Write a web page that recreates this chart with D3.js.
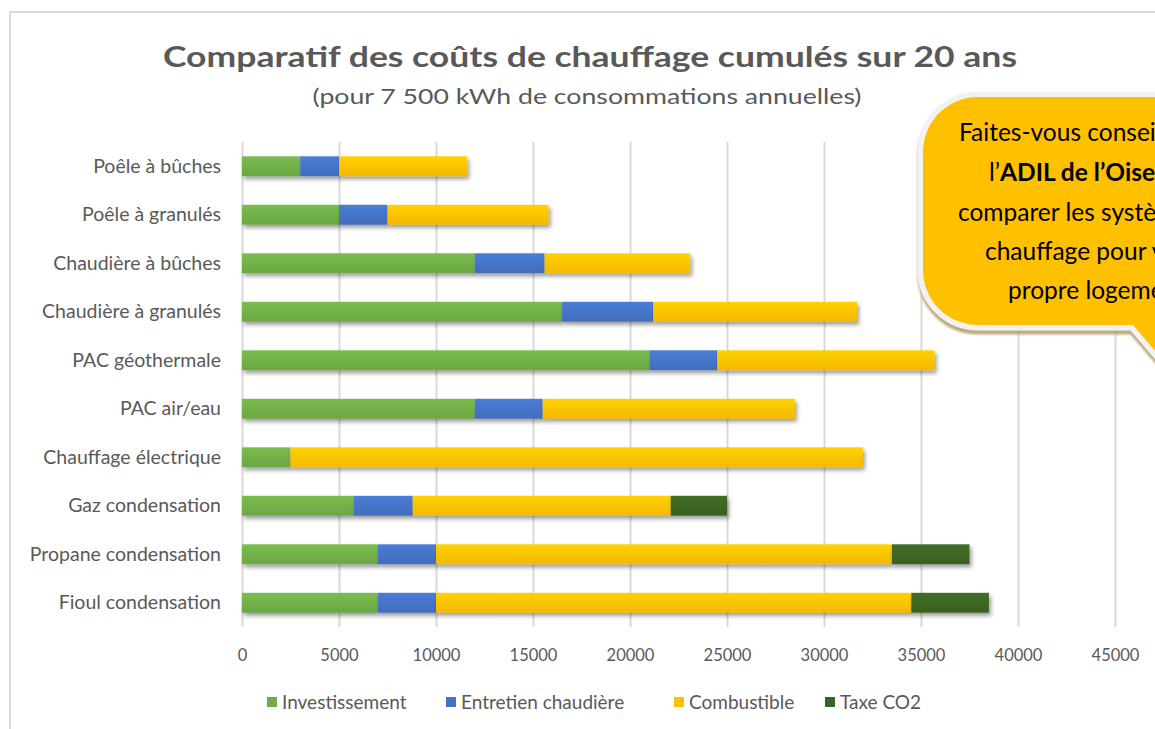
<!DOCTYPE html>
<html>
<head>
<meta charset="utf-8">
<title>Comparatif des coûts de chauffage</title>
<script src="https://d3js.org/d3.v7.min.js"></script>
<style>
  body { margin: 0; background: #fff; }
  svg { display: block; font-family: Lato, "Open Sans", sans-serif; }
</style>
</head>
<body>
<svg width="1155" height="729"></svg>
<script>
// data (euros, cumulated over 20 years)
var categories = ["Poêle à bûches", "Poêle à granulés", "Chaudière à bûches", "Chaudière à granulés",
  "PAC géothermale", "PAC air/eau", "Chauffage électrique", "Gaz condensation",
  "Propane condensation", "Fioul condensation"];
var investissement = [3000, 5000, 12000, 16500, 21000, 12000, 2500, 5750, 7000, 7000];
var entretien      = [2000, 2500, 3600, 4700, 3500, 3500, 0, 3050, 3000, 3000];
var combustible    = [6600, 8300, 7500, 10500, 11200, 13000, 29500, 13300, 23500, 24500];
var taxeCO2        = [0, 0, 0, 0, 0, 0, 0, 2900, 4000, 4000];
var seriesNames = ["Investissement", "Entretien chaudière", "Combustible", "Taxe CO2"];
var tickValues = [0, 5000, 10000, 15000, 20000, 25000, 30000, 35000, 40000, 45000];
var colors = ["#70ad47", "#4472c4", "#ffc000", "#3b6424"];

var svg = d3.select("svg");
var grey = "#595959";

// rows for the stack
var rows = categories.map(function(c, i) {
  return { cat: c, s0: investissement[i], s1: entretien[i], s2: combustible[i], s3: taxeCO2[i] };
});

var defs = svg.append("defs");
var f = defs.append("filter").attr("id", "shadow")
  .attr("x", "-5%").attr("y", "-30%").attr("width", "115%").attr("height", "180%");
f.append("feDropShadow").attr("dx", 2).attr("dy", 3).attr("stdDeviation", 2)
  .attr("flood-color", "#000").attr("flood-opacity", 0.4);
var f2 = defs.append("filter").attr("id", "calloutShadow")
  .attr("x", "-10%").attr("y", "-10%").attr("width", "130%").attr("height", "130%");
f2.append("feDropShadow").attr("dx", 0).attr("dy", 4).attr("stdDeviation", 0.8)
  .attr("flood-color", "#b5a26a").attr("flood-opacity", 0.9);

colors.forEach(function(c, i) {
  var g = defs.append("linearGradient").attr("id", "grad" + i)
    .attr("x1", 0).attr("y1", 0).attr("x2", 0).attr("y2", 1);
  g.append("stop").attr("offset", "0%").attr("stop-color", d3.color(c).brighter(0.25));
  g.append("stop").attr("offset", "100%").attr("stop-color", d3.color(c).darker(0.12));
});

// outer frame
svg.append("rect").attr("x", 10).attr("y", 12).attr("width", 1200).attr("height", 760)
  .attr("fill", "#fff").attr("stroke", "#d9d9d9").attr("stroke-width", 2);

// title
svg.append("text").attr("x", 590).attr("y", 67).attr("text-anchor", "middle")
  .attr("font-size", 29).attr("font-weight", "bold").attr("fill", grey)
  .attr("textLength", 854).attr("lengthAdjust", "spacingAndGlyphs")
  .text("Comparatif des coûts de chauffage cumulés sur 20 ans");
svg.append("text").attr("x", 587).attr("y", 104).attr("text-anchor", "middle")
  .attr("font-size", 22).attr("fill", grey)
  .attr("textLength", 549).attr("lengthAdjust", "spacingAndGlyphs")
  .text("(pour 7 500 kWh de consommations annuelles)");

var x = d3.scaleLinear().domain([0, 45000]).range([242, 1115]);
var y = d3.scaleBand().domain(categories).range([142, 627])
  .paddingInner(0.59).paddingOuter(0.295);

// gridlines
svg.append("g").attr("transform", "translate(0,627)")
  .call(d3.axisBottom(x).tickValues(tickValues).tickSize(-485).tickFormat(""))
  .call(function(g) {
    g.select(".domain").remove();
    g.selectAll("line").attr("stroke", "#d9d9d9").attr("stroke-width", 2);
  });

// tick labels
svg.append("g").attr("transform", "translate(0,627)")
  .call(d3.axisBottom(x).tickValues(tickValues).tickSize(0).tickPadding(22).tickFormat(d3.format("d")))
  .call(function(g) {
    g.select(".domain").remove();
    g.selectAll("text").attr("font-size", 16.5).attr("fill", grey).attr("font-family", "Lato, sans-serif");
  });

// category labels
svg.append("g").attr("transform", "translate(242,0)")
  .call(d3.axisLeft(y).tickSize(0).tickPadding(21))
  .call(function(g) {
    g.select(".domain").remove();
    g.selectAll("text").attr("font-size", 19.5).attr("fill", grey).attr("font-family", "Lato, sans-serif");
  });

// stacked bars
var stack = d3.stack().keys(["s0", "s1", "s2", "s3"]);
var layers = svg.selectAll(".series")
  .data(stack(rows))
  .enter().append("g")
  .attr("class", "series")
  .attr("fill", function(d, i) { return "url(#grad" + i + ")"; })
  .attr("filter", "url(#shadow)");

layers.selectAll("rect")
  .data(function(d) { return d; })
  .enter().append("rect")
  .filter(function(d) { return d[1] - d[0] > 0; })
  .attr("x", function(d) { return x(d[0]); })
  .attr("y", function(d) { return y(d.data.cat); })
  .attr("width", function(d) { return x(d[1]) - x(d[0]); })
  .attr("height", y.bandwidth());

// legend
var legendX = [267, 446, 674, 825];
var lg = svg.selectAll(".legend")
  .data(seriesNames)
  .enter().append("g")
  .attr("class", "legend")
  .attr("transform", function(d, i) { return "translate(" + legendX[i] + ",697)"; });
lg.append("rect").attr("width", 10).attr("height", 10)
  .attr("fill", function(d, i) { return colors[i]; });
lg.append("text").attr("x", 15).attr("y", 12)
  .attr("font-size", 19).attr("fill", grey)
  .text(function(d) { return d; });

// callout bubble (cut by the right edge, as in the source)
var callout = svg.append("g");
var L = 923, T = 97, R = 1320, B = 325, r = 55;
var p = d3.path();
p.moveTo(L + r, T);
p.lineTo(R - r, T);
p.arcTo(R, T, R, T + r, r);
p.lineTo(R, B - r);
p.arcTo(R, B, R - r, B, r);
p.lineTo(1185, B);
p.lineTo(1180, 380);
p.lineTo(1133, B);
p.lineTo(L + r, B);
p.arcTo(L, B, L, B - r, r);
p.lineTo(L, T + r);
p.arcTo(L, T, L + r, T, r);
p.closePath();
callout.append("path").attr("d", p.toString())
  .attr("fill", "#ffc000").attr("stroke", "#f2f2f2").attr("stroke-width", 11)
  .attr("stroke-linejoin", "round")
  .attr("filter", "url(#calloutShadow)");
callout.append("path").attr("d", p.toString()).attr("fill", "#ffc000");

var calloutLines = [
  { x: 959, y: 141, parts: [["Faites-vous conseiller par", "normal"]] },
  { x: 989, y: 181, parts: [["l’", "normal"], ["ADIL de l’Oise", "bold"], [" pour", "normal"]] },
  { x: 958, y: 221, parts: [["comparer les systèmes de", "normal"]] },
  { x: 985, y: 260, parts: [["chauffage pour votre", "normal"]] },
  { x: 1008, y: 299, parts: [["propre logement", "normal"]] }
];
calloutLines.forEach(function(l) {
  var t = callout.append("text").attr("x", l.x).attr("y", l.y)
    .attr("font-size", 24.5).attr("fill", "#000");
  l.parts.forEach(function(pt) {
    t.append("tspan").attr("font-weight", pt[1]).text(pt[0]);
  });
});
</script>
</body>
</html>
